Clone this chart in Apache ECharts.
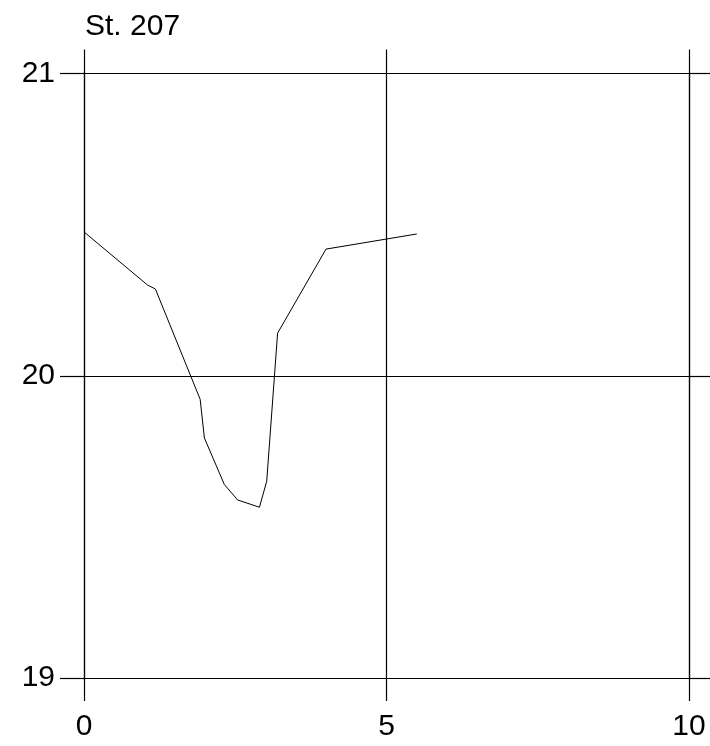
<!DOCTYPE html>
<html>
<head>
<meta charset="utf-8">
<script src="https://cdn.jsdelivr.net/npm/echarts@6/dist/echarts.min.js"></script>
<style>
  html, body { margin: 0; padding: 0; background: #fff; }
  #chart { width: 710px; height: 746px; }
</style>
</head>
<body>
<div id="chart"></div>
<script>
// Station 207 profile
const titleText = 'St. 207';
const xValues = [0, 1.05, 1.18, 1.92, 1.99, 2.32, 2.54, 2.90, 3.02, 3.20, 4.00, 5.50];
const yValues = [20.476, 20.30, 20.287, 19.922, 19.794, 19.64, 19.589, 19.565, 19.651, 20.141, 20.419, 20.469];
const xTicks = [0, 5, 10];
const yTicks = [19, 20, 21];

const FONT = 'Liberation Sans, Arial, sans-serif';
const INK = '#000';

const chart = echarts.init(document.getElementById('chart'), null, { renderer: 'canvas' });

const lineStyle = { color: INK, width: 1.2 };
const points = xValues.map((x, i) => [x, yValues[i]]);

chart.setOption({
  animation: false,
  backgroundColor: '#fff',
  title: {
    text: titleText,
    left: 85,
    top: 12,
    padding: 0,
    textStyle: { fontFamily: FONT, fontSize: 30, fontWeight: 'normal', color: INK }
  },
  grid: { left: 84, right: 21, top: 73.5, bottom: 68, containLabel: false },
  xAxis: [
    {
      type: 'value', position: 'bottom',
      min: xTicks[0], max: xTicks[xTicks.length - 1], interval: 5,
      axisLine: { show: true, onZero: false, lineStyle },
      axisTick: { show: true, length: 23, lineStyle },
      splitLine: { show: true, lineStyle },
      axisLabel: { show: true, margin: 34, fontFamily: FONT, fontSize: 30, color: INK }
    },
    {
      type: 'value', position: 'top',
      min: xTicks[0], max: xTicks[xTicks.length - 1], interval: 5,
      axisLine: { show: true, onZero: false, lineStyle },
      axisTick: { show: true, length: 24, lineStyle },
      splitLine: { show: false },
      axisLabel: { show: false }
    }
  ],
  yAxis: [
    {
      type: 'value', position: 'left',
      min: yTicks[0], max: yTicks[yTicks.length - 1], interval: 1,
      axisLine: { show: true, onZero: false, lineStyle },
      axisTick: { show: true, length: 24, lineStyle },
      splitLine: { show: true, lineStyle },
      axisLabel: { show: true, margin: 29, fontFamily: FONT, fontSize: 30, color: INK }
    },
    {
      type: 'value', position: 'right',
      min: yTicks[0], max: yTicks[yTicks.length - 1], interval: 1,
      axisLine: { show: true, onZero: false, lineStyle },
      axisTick: { show: true, length: 21, lineStyle },
      splitLine: { show: false },
      axisLabel: { show: false }
    }
  ],
  series: [
    {
      type: 'line',
      xAxisIndex: 0, yAxisIndex: 0,
      data: points,
      symbol: 'none',
      lineStyle: { color: INK, width: 1 }
    }
  ]
});
</script>
</body>
</html>
